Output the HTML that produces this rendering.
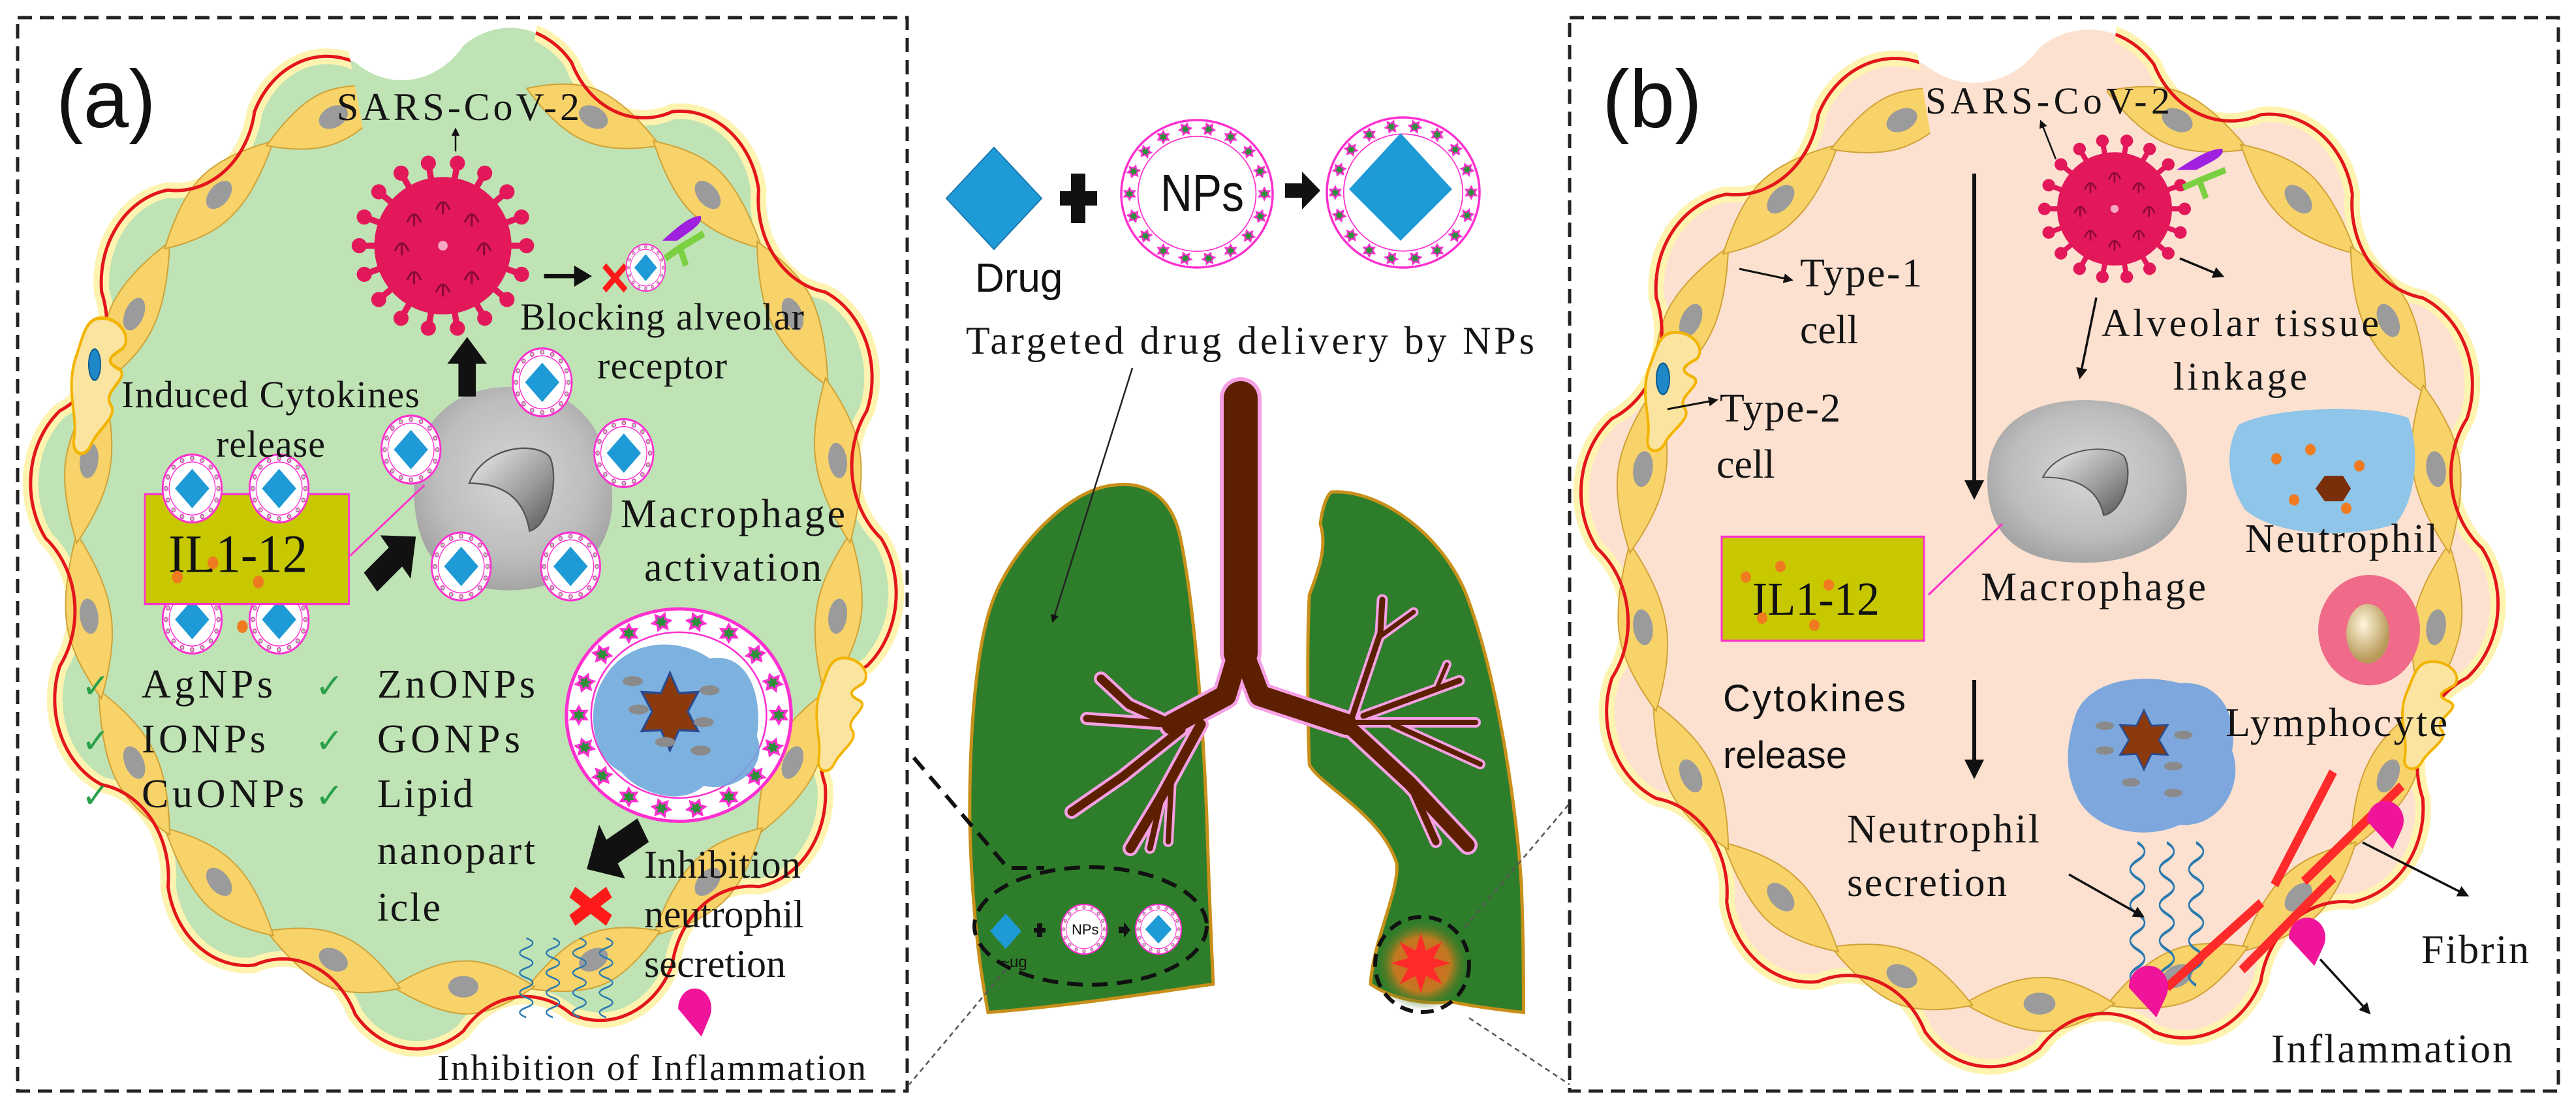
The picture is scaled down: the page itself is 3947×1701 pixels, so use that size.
<!DOCTYPE html>
<html><head><meta charset="utf-8"><style>
html,body{margin:0;padding:0;background:#fff;}
svg{display:block;}
.s{font-family:"Liberation Serif",serif;fill:#151515;}
.a{font-family:"Liberation Sans",sans-serif;fill:#111;}
</style></head><body>
<svg width="3947" height="1701" viewBox="0 0 3947 1701" xmlns="http://www.w3.org/2000/svg" xmlns:xlink="http://www.w3.org/1999/xlink">
<defs>
<marker id="ah" viewBox="0 0 10 10" refX="8" refY="5" markerWidth="5" markerHeight="5" orient="auto"><path d="M0,0L10,5L0,10Z" fill="#111"/></marker>
<radialGradient id="mg" cx="50%" cy="45%" r="55%"><stop offset="0" stop-color="#d6d6d6"/><stop offset="0.7" stop-color="#bdbdbd"/><stop offset="1" stop-color="#a5a5a5"/></radialGradient>
<linearGradient id="ng" x1="0" y1="0" x2="1" y2="1"><stop offset="0" stop-color="#f0f0f0"/><stop offset="0.6" stop-color="#9a9a9a"/><stop offset="1" stop-color="#555"/></linearGradient>
<radialGradient id="glow" cx="50%" cy="50%" r="50%"><stop offset="0" stop-color="#e85a20"/><stop offset="0.6" stop-color="#c07a20"/><stop offset="1" stop-color="#2e7d2a" stop-opacity="0"/></radialGradient>
<radialGradient id="nuc" cx="40%" cy="35%" r="60%"><stop offset="0" stop-color="#fff6dc"/><stop offset="1" stop-color="#b89a5a"/></radialGradient>
<clipPath id="clA" clipPathUnits="userSpaceOnUse"><path d="M0,0 H520 L560,220 H790 L830,0 H1400 V1701 H0Z"/></clipPath>
<clipPath id="clB" clipPathUnits="userSpaceOnUse"><path d="M2400,0 H2925 L2960,220 H3215 L3250,0 H3947 V1701 H2400Z"/></clipPath>

<path id="wv" d="M100,0 A19,19 0 0 1 96.6,25.9 A19,19 0 0 0 86.6,50 A19,19 0 0 1 70.7,70.7 A19,19 0 0 0 50,86.6 A19,19 0 0 1 25.9,96.6 A19,19 0 0 0 0,100 A19,19 0 0 1 -25.9,96.6 A19,19 0 0 0 -50,86.6 A19,19 0 0 1 -70.7,70.7 A19,19 0 0 0 -86.6,50 A19,19 0 0 1 -96.6,25.9 A19,19 0 0 0 -100,0 A19,19 0 0 1 -96.6,-25.9 A19,19 0 0 0 -86.6,-50 A19,19 0 0 1 -70.7,-70.7 A19,19 0 0 0 -50,-86.6 A19,19 0 0 1 -25.9,-96.6 A19,19 0 0 0 0,-100 A19,19 0 0 1 25.9,-96.6 A19,19 0 0 0 50,-86.6 A19,19 0 0 1 70.7,-70.7 A19,19 0 0 0 86.6,-50 A19,19 0 0 1 96.6,-25.9 A19,19 0 0 0 100,0Z" vector-effect="non-scaling-stroke"/>
<g id="cell"><path d="M-17,0 Q-7,-5.8 0,-5.5 Q7,-5.2 17,0 Q7,5.2 0,5.2 Q-7,5.5 -17,0Z" fill="#f8d36a" stroke="#d0a236" stroke-width="2" vector-effect="non-scaling-stroke"/><ellipse rx="3.6" ry="2.2" fill="#9b9b9b"/></g>
<g id="cells">
<use href="#cell" transform="rotate(10) translate(91,0) rotate(90)"/>
<use href="#cell" transform="rotate(30) translate(91,0) rotate(90)"/>
<use href="#cell" transform="rotate(50) translate(91,0) rotate(90)"/>
<use href="#cell" transform="rotate(70) translate(91,0) rotate(90)"/>
<use href="#cell" transform="rotate(90) translate(91,0) rotate(90)"/>
<use href="#cell" transform="rotate(110) translate(91,0) rotate(90)"/>
<use href="#cell" transform="rotate(130) translate(91,0) rotate(90)"/>
<use href="#cell" transform="rotate(150) translate(91,0) rotate(90)"/>
<use href="#cell" transform="rotate(170) translate(91,0) rotate(90)"/>
<use href="#cell" transform="rotate(190) translate(91,0) rotate(90)"/>
<use href="#cell" transform="rotate(210) translate(91,0) rotate(90)"/>
<use href="#cell" transform="rotate(230) translate(91,0) rotate(90)"/>
<use href="#cell" transform="rotate(250) translate(91,0) rotate(90)"/>
<use href="#cell" transform="rotate(290) translate(91,0) rotate(90)"/>
<use href="#cell" transform="rotate(310) translate(91,0) rotate(90)"/>
<use href="#cell" transform="rotate(330) translate(91,0) rotate(90)"/>
<use href="#cell" transform="rotate(350) translate(91,0) rotate(90)"/>
</g>

<g id="sp"><line x1="95" y1="0" x2="120" y2="0" stroke="#e2185b" stroke-width="9"/><circle cx="122" cy="0" r="11" fill="#e2185b"/></g>
<path id="ym" d="M-10,8 Q0,-15 10,8 M0,-3 L0,14" fill="none" stroke="#8a0a36" stroke-width="3"/>
<g id="vir">
<use href="#sp"/><use href="#sp" transform="rotate(20)"/><use href="#sp" transform="rotate(40)"/><use href="#sp" transform="rotate(60)"/><use href="#sp" transform="rotate(80)"/><use href="#sp" transform="rotate(100)"/><use href="#sp" transform="rotate(120)"/><use href="#sp" transform="rotate(140)"/><use href="#sp" transform="rotate(160)"/><use href="#sp" transform="rotate(180)"/><use href="#sp" transform="rotate(200)"/><use href="#sp" transform="rotate(220)"/><use href="#sp" transform="rotate(240)"/><use href="#sp" transform="rotate(260)"/><use href="#sp" transform="rotate(280)"/><use href="#sp" transform="rotate(300)"/><use href="#sp" transform="rotate(320)"/><use href="#sp" transform="rotate(340)"/>
<circle r="100" fill="#e2185b"/>
<use href="#ym" x="60" y="0"/><use href="#ym" x="42" y="42"/><use href="#ym" x="0" y="60"/><use href="#ym" x="-42" y="42"/><use href="#ym" x="-60" y="0"/><use href="#ym" x="-42" y="-42"/><use href="#ym" x="0" y="-60"/><use href="#ym" x="42" y="-42"/>
<circle r="7" fill="#f7a8c0"/>
</g>

<circle id="pd" cx="89" cy="0" r="6" fill="#b6e0a8" stroke="#e040c0" stroke-width="3"/>
<g id="npP"><circle r="100" fill="#fff" stroke="#ff2fd0" stroke-width="6"/><circle r="78" fill="none" stroke="#ff2fd0" stroke-width="3"/>
<use href="#pd"/><use href="#pd" transform="rotate(22.5)"/><use href="#pd" transform="rotate(45)"/><use href="#pd" transform="rotate(67.5)"/><use href="#pd" transform="rotate(90)"/><use href="#pd" transform="rotate(112.5)"/><use href="#pd" transform="rotate(135)"/><use href="#pd" transform="rotate(157.5)"/><use href="#pd" transform="rotate(180)"/><use href="#pd" transform="rotate(202.5)"/><use href="#pd" transform="rotate(225)"/><use href="#pd" transform="rotate(247.5)"/><use href="#pd" transform="rotate(270)"/><use href="#pd" transform="rotate(292.5)"/><use href="#pd" transform="rotate(315)"/><use href="#pd" transform="rotate(337.5)"/></g>
<g id="npPD"><use href="#npP"/><polygon points="-58,0 0,-58 58,0 0,58" fill="#1e9ad6"/></g>
<polygon id="gd" transform="translate(89,0) scale(8)" points="0,-1 .275,-.476 .866,-.5 .55,0 .866,.5 .275,.476 0,1 -.275,.476 -.866,.5 -.55,0 -.866,-.5 -.275,-.476" fill="#2d8f3a" stroke="#ff2fd0" stroke-width="0.25"/>
<g id="npG"><circle r="100" fill="#fff" stroke="#ff2fd0" stroke-width="3"/><circle r="78" fill="none" stroke="#ff2fd0" stroke-width="1.5"/>
<use href="#gd"/><use href="#gd" transform="rotate(20)"/><use href="#gd" transform="rotate(40)"/><use href="#gd" transform="rotate(60)"/><use href="#gd" transform="rotate(80)"/><use href="#gd" transform="rotate(100)"/><use href="#gd" transform="rotate(120)"/><use href="#gd" transform="rotate(140)"/><use href="#gd" transform="rotate(160)"/><use href="#gd" transform="rotate(180)"/><use href="#gd" transform="rotate(200)"/><use href="#gd" transform="rotate(220)"/><use href="#gd" transform="rotate(240)"/><use href="#gd" transform="rotate(260)"/><use href="#gd" transform="rotate(280)"/><use href="#gd" transform="rotate(300)"/><use href="#gd" transform="rotate(320)"/><use href="#gd" transform="rotate(340)"/></g>

<g id="mac"><path d="M-100,0 C-100,-80 -40,-100 10,-95 C80,-90 100,-30 97,20 C90,80 30,100 -20,95 C-80,90 -100,50 -100,0Z" fill="url(#mg)"/>
<path d="M-45,-5 C-30,-40 20,-45 35,-30 C45,-10 35,35 15,40 C10,10 -10,-5 -45,-5Z" fill="url(#ng)" stroke="#555" stroke-width="1.5"/></g>
<path id="sq" d="M0,0 q22,7 0,14 q-22,7 0,14 q22,7 0,14 q-22,7 0,14 q22,7 0,14 q-22,7 0,14 q22,7 0,14 q-22,7 0,14" fill="none" stroke="#2a7ab0" stroke-width="2.5"/>
<polygon id="hex" points="0,-1 .275,-.476 .866,-.5 .55,0 .866,.5 .275,.476 0,1 -.275,.476 -.866,.5 -.55,0 -.866,-.5 -.275,-.476" fill="#8b3a0e" stroke="#2a4a90" stroke-width="0.06"/>
<polygon id="fa" points="-1,-0.35 0.1,-0.35 0.1,-0.8 1,0 0.1,0.8 0.1,0.35 -1,0.35" fill="#111"/>
<path id="t2" d="M40,0 C70,-5 95,20 80,35 C60,45 50,50 75,60 C90,70 50,85 60,100 C75,115 40,130 30,150 C20,165 0,160 5,140 C10,110 -10,80 10,40 C20,15 25,3 40,0Z" fill="#fbe3a0" stroke="#f2b400" stroke-width="4"/>
</defs>

<!-- dashed boxes -->
<rect x="27" y="27" width="1363" height="1645" fill="none" stroke="#222" stroke-width="5" stroke-dasharray="22 12"/>
<rect x="2405" y="27" width="1515" height="1645" fill="none" stroke="#222" stroke-width="5" stroke-dasharray="22 12"/>

<!-- Panel A alveolus -->
<g transform="translate(710,825) scale(6.4,7.55)"><use href="#wv" fill="#bfe3b4" stroke="none"/></g>
<g clip-path="url(#clA)"><g transform="translate(710,825) scale(6.4,7.55)">
<use href="#wv" fill="none" stroke="#fff3b0" stroke-width="24"/>
<use href="#cells"/>
<use href="#wv" fill="none" stroke="#e3161b" stroke-width="5"/>
</g></g>
<!-- Panel B alveolus -->
<g transform="translate(3125,840) scale(6.78,7.67)"><use href="#wv" fill="#fde1d0" stroke="none"/></g>
<g clip-path="url(#clB)"><g transform="translate(3125,840) scale(6.78,7.67)">
<use href="#wv" fill="none" stroke="#fff3b0" stroke-width="24"/>
<use href="#cells"/>
<use href="#wv" fill="none" stroke="#e3161b" stroke-width="5"/>
</g></g>

<!-- Panel A shapes (zoom coords) -->
<g transform="scale(0.906,1.085)">
<use href="#t2" transform="translate(120,450) scale(1.1,1.2)"/>
<ellipse cx="160" cy="515" rx="10" ry="22" fill="#1e88c8" stroke="#0a5a90" stroke-width="2"/>
<use href="#t2" transform="translate(1380,930)"/>
<use href="#vir" transform="translate(749,347) scale(1.16,0.97)"/>
<line x1="920" y1="390" x2="995" y2="390" stroke="#111" stroke-width="6" marker-end="url(#ah)"/>
<g stroke="#ff1a1a" stroke-width="9"><line x1="1022" y1="375" x2="1058" y2="410"/><line x1="1058" y1="375" x2="1022" y2="410"/></g>
<use href="#npPD" transform="translate(1092,378) scale(0.33)"/>
<path d="M1120,340 C1140,325 1165,305 1185,305 C1190,315 1170,325 1145,340Z" fill="#a020e0"/>
<path d="M1125,365 L1150,350 L1190,330 M1150,350 L1160,375" stroke="#7ad040" stroke-width="10" fill="none"/>
<use href="#mac" transform="translate(870,690) scale(1.7,1.5)"/>
<use href="#npPD" transform="translate(917,540) scale(0.5,0.48)"/>
<use href="#npPD" transform="translate(695,635) scale(0.5,0.48)"/>
<use href="#npPD" transform="translate(1055,640) scale(0.5,0.48)"/>
<use href="#npPD" transform="translate(780,800) scale(0.5,0.48)"/>
<use href="#npPD" transform="translate(965,800) scale(0.5,0.48)"/>
<use href="#npPD" transform="translate(325,875) scale(0.5,0.48)"/>
<use href="#npPD" transform="translate(472,875) scale(0.5,0.48)"/>
<rect x="245" y="698" width="345" height="155" fill="#c8c800" stroke="#ff33cc" stroke-width="3"/>
<text x="285" y="808" font-family="Liberation Serif,serif" font-size="76" fill="#111" textLength="235" lengthAdjust="spacingAndGlyphs">IL1-12</text>
<g fill="#f07a20"><circle cx="300" cy="815" r="9"/><circle cx="360" cy="795" r="9"/><circle cx="437" cy="822" r="9"/><circle cx="410" cy="885" r="9"/></g>
<use href="#npPD" transform="translate(325,690) scale(0.5,0.48)"/>
<use href="#npPD" transform="translate(472,690) scale(0.5,0.48)"/>
<line x1="592" y1="785" x2="718" y2="685" stroke="#ff33cc" stroke-width="3"/>
<use href="#fa" transform="translate(790,518) rotate(-90) scale(42)"/>
<use href="#fa" transform="translate(665,790) rotate(-40) scale(50)"/>
<use href="#fa" transform="translate(1040,1200) rotate(150) scale(55)"/>
<use href="#npG" transform="translate(1148,1010) scale(1.9,1.5)"/>
<path d="M1020,960 C1060,900 1150,900 1200,930 C1270,920 1290,990 1280,1040 C1300,1080 1250,1120 1190,1110 C1150,1140 1080,1120 1050,1090 C1000,1070 990,1000 1020,960Z" fill="#6fa8dc" opacity="0.9"/>
<use href="#hex" transform="translate(1133,1005) scale(55)"/>
<g fill="#8a8a8a"><ellipse cx="1070" cy="962" rx="17" ry="7"/><ellipse cx="1080" cy="1002" rx="17" ry="7"/><ellipse cx="1200" cy="975" rx="17" ry="7"/><ellipse cx="1190" cy="1020" rx="17" ry="7"/><ellipse cx="1125" cy="1048" rx="17" ry="7"/><ellipse cx="1185" cy="1060" rx="17" ry="7"/></g>
<g stroke="#ff1a1a" stroke-width="18"><line x1="968" y1="1260" x2="1030" y2="1300"/><line x1="1030" y1="1260" x2="968" y2="1300"/></g>
<use href="#sq" x="890" y="1325"/><use href="#sq" x="935" y="1325"/><use href="#sq" x="980" y="1325"/><use href="#sq" x="1025" y="1325"/>
<path d="M1147,1425 A28,28 0 1 1 1200.2,1436.2 L1186.2,1464.2Z" fill="#f0149a"/>
</g>

<!-- Panel B shapes (zoom coords) -->
<g transform="translate(2380,0) scale(1,1.085)">
<use href="#t2" transform="translate(140,470) scale(1,1.05)"/>
<ellipse cx="168" cy="535" rx="10" ry="22" fill="#1e88c8" stroke="#0a5a90" stroke-width="2"/>
<use href="#t2" transform="translate(1300,935) scale(1,0.95)"/>
<use href="#vir" transform="translate(860,295) scale(0.88,0.8)"/>
<path d="M955,240 C980,225 1005,210 1025,210 C1030,220 1010,228 985,240Z" fill="#a020e0"/>
<path d="M965,265 L990,255 L1030,240 M990,255 L1000,280" stroke="#7ad040" stroke-width="9" fill="none"/>
<use href="#mac" transform="translate(820,680) scale(1.55,1.2)"/>
<path d="M1050,600 C1100,575 1250,570 1310,590 C1330,640 1320,710 1290,740 C1230,760 1110,760 1060,720 C1030,680 1030,630 1050,600Z" fill="#8ec5e8"/>
<polygon points="1168,690 1182,672 1210,672 1222,690 1210,708 1182,708" fill="#7a2e0a"/>
<g fill="#f07a20"><circle cx="1108" cy="648" r="8"/><circle cx="1160" cy="635" r="8"/><circle cx="1235" cy="658" r="8"/><circle cx="1135" cy="706" r="8"/><circle cx="1215" cy="718" r="8"/></g>
<circle cx="1250" cy="890" r="78" fill="#f06a8a"/><ellipse cx="1248" cy="895" rx="33" ry="42" fill="url(#nuc)"/>
<rect x="258" y="758" width="310" height="147" fill="#c8c800" stroke="#ff33cc" stroke-width="3"/>
<text x="305" y="868" font-family="Liberation Serif,serif" font-size="66" fill="#111" textLength="195" lengthAdjust="spacingAndGlyphs">IL1-12</text>
<g fill="#f07a20"><circle cx="295" cy="815" r="8"/><circle cx="348" cy="800" r="8"/><circle cx="422" cy="826" r="8"/><circle cx="320" cy="873" r="8"/><circle cx="400" cy="883" r="8"/></g>
<line x1="575" y1="840" x2="688" y2="740" stroke="#ff33cc" stroke-width="3"/>
<path d="M800,1010 C820,960 900,950 960,965 C1020,960 1050,1010 1040,1060 C1060,1110 1020,1170 960,1165 C900,1190 820,1170 800,1120 C780,1080 790,1040 800,1010Z" fill="#7ea8dd"/>
<use href="#hex" transform="translate(905,1045) scale(42)"/>
<g fill="#8a8a8a"><ellipse cx="845" cy="1025" rx="14" ry="6"/><ellipse cx="845" cy="1060" rx="14" ry="6"/><ellipse cx="965" cy="1038" rx="14" ry="6"/><ellipse cx="950" cy="1082" rx="14" ry="6"/><ellipse cx="885" cy="1105" rx="14" ry="6"/><ellipse cx="950" cy="1120" rx="14" ry="6"/></g>
<use href="#sq" transform="translate(895,1190) scale(1,1.8)"/><use href="#sq" transform="translate(940,1190) scale(1,1.8)"/><use href="#sq" transform="translate(985,1190) scale(1,1.8)"/>
<g stroke="#ff2a2a" stroke-width="13"><line x1="1195" y1="1090" x2="1105" y2="1250"/><line x1="1300" y1="1110" x2="1150" y2="1245"/><line x1="1085" y1="1275" x2="940" y2="1395"/><line x1="1195" y1="1240" x2="1055" y2="1370"/></g>
<path d="M1247,1160 A28,28 0 1 1 1300.2,1171.2 L1286.2,1199.2Z" fill="#f0149a"/>
<path d="M1127,1325 A28,28 0 1 1 1180.2,1336.2 L1166.2,1364.2Z" fill="#f0149a"/>
<path d="M882,1395 A30,30 0 1 1 939,1407 L924,1437Z" fill="#f0149a"/>
</g>

<!-- center lungs -->
<g transform="translate(1380,0) scale(0.6698,1.085)">
<path d="M490,685 C560,680 620,700 640,760 C670,850 690,1000 700,1150 C705,1250 712,1350 715,1390 C600,1400 400,1420 200,1430 C175,1350 160,1250 158,1150 C158,1000 180,900 210,850 C250,780 380,690 490,685Z" fill="#2e7d2a" stroke="#c8901a" stroke-width="5" vector-effect="non-scaling-stroke"/>
<path d="M985,695 C1100,690 1250,760 1300,850 C1370,970 1410,1150 1420,1250 C1425,1330 1425,1400 1425,1430 C1350,1425 1300,1420 1260,1415 C1200,1420 1120,1410 1075,1390 C1080,1330 1140,1260 1135,1220 C1100,1150 960,1110 935,1080 C930,1000 930,900 935,840 C960,800 975,770 960,740 C965,715 975,700 985,695Z" fill="#2e7d2a" stroke="#c8901a" stroke-width="5" vector-effect="non-scaling-stroke"/>
</g>
<!-- bronchi (real coords) -->
<g fill="none" stroke="#f6a0e4" stroke-linecap="round" stroke-linejoin="round">
<polyline points="1901,610 1901,1000" stroke-width="64"/>
<polyline points="1901,990 1878,1066 1796,1110" stroke-width="42"/>
<polyline points="1796,1110 1730,1080 1687,1040" stroke-width="22"/>
<polyline points="1796,1110 1665,1101" stroke-width="20"/>
<polyline points="1810,1118 1720,1190 1642,1244" stroke-width="22"/>
<polyline points="1840,1110 1780,1220 1732,1300" stroke-width="24"/>
<polyline points="1780,1220 1762,1300" stroke-width="17"/>
<polyline points="1795,1195 1790,1290" stroke-width="16"/>
<polyline points="1901,990 1930,1066 2063,1110" stroke-width="42"/>
<polyline points="2063,1110 2160,1200 2249,1295" stroke-width="30"/>
<polyline points="2070,1104 2115,970 2118,919" stroke-width="17"/>
<polyline points="2115,975 2166,938" stroke-width="15"/>
<polyline points="2089,1097 2236,1043" stroke-width="17"/>
<polyline points="2200,1058 2217,1018" stroke-width="14"/>
<polyline points="2063,1107 2261,1107" stroke-width="16"/>
<polyline points="2134,1110 2268,1171" stroke-width="16"/>
<polyline points="2160,1200 2200,1290" stroke-width="19"/>
</g>
<g fill="none" stroke="#5c2000" stroke-linecap="round" stroke-linejoin="round">
<polyline points="1901,610 1901,1000" stroke-width="52"/>
<polyline points="1901,990 1878,1066 1796,1110" stroke-width="32"/>
<polyline points="1796,1110 1730,1080 1687,1040" stroke-width="13"/>
<polyline points="1796,1110 1665,1101" stroke-width="11"/>
<polyline points="1810,1118 1720,1190 1642,1244" stroke-width="13"/>
<polyline points="1840,1110 1780,1220 1732,1300" stroke-width="15"/>
<polyline points="1780,1220 1762,1300" stroke-width="9"/>
<polyline points="1795,1195 1790,1290" stroke-width="8"/>
<polyline points="1901,990 1930,1066 2063,1110" stroke-width="32"/>
<polyline points="2063,1110 2160,1200 2249,1295" stroke-width="21"/>
<polyline points="2070,1104 2115,970 2118,919" stroke-width="9"/>
<polyline points="2115,975 2166,938" stroke-width="7"/>
<polyline points="2089,1097 2236,1043" stroke-width="9"/>
<polyline points="2200,1058 2217,1018" stroke-width="6"/>
<polyline points="2063,1107 2261,1107" stroke-width="8"/>
<polyline points="2134,1110 2268,1171" stroke-width="8"/>
<polyline points="2160,1200 2200,1290" stroke-width="11"/>
</g>

<!-- center top -->
<polygon points="1450,304 1523,226 1596,304 1523,382" fill="#1e9ad6" stroke="#1878b0" stroke-width="2"/>
<rect x="1624" y="293" width="57" height="22" fill="#111"/>
<rect x="1641" y="266" width="22" height="76" fill="#111"/>
<text class="a" x="1494" y="447" font-size="62">Drug</text>
<use href="#npG" transform="translate(1834,297) scale(1.16,1.13)"/>
<use href="#npG" transform="translate(2150,295) scale(1.17,1.15)"/>
<polygon points="2067,290 2146,204 2225,290 2146,369" fill="#1e9ad6"/>
<text class="a" x="1778" y="323" font-size="80" textLength="128" lengthAdjust="spacingAndGlyphs">NPs</text>
<polygon points="1969,281 1995,281 1995,263 2023,292 1995,321 1995,303 1969,303" fill="#111"/>
<text class="s" x="1480" y="542" font-size="60" textLength="871" lengthAdjust="spacing">Targeted drug delivery by NPs</text>
<line x1="1735" y1="564" x2="1613" y2="952" stroke="#222" stroke-width="2.5" marker-end="url(#ah)"/>

<!-- lung details -->
<ellipse cx="2179" cy="1478" rx="72" ry="70" fill="url(#glow)"/>
<polygon transform="translate(2177,1476) scale(46)" points="0,-1 .172,-.416 .707,-.707 .416,-.172 1,0 .416,.172 .707,.707 .172,.416 0,1 -.172,.416 -.707,.707 -.416,.172 -1,0 -.416,-.172 -.707,-.707 -.172,-.416" fill="#ff2a2a"/>
<ellipse cx="1671" cy="1419" rx="178" ry="90" fill="none" stroke="#111" stroke-width="6" stroke-dasharray="24 14"/>
<ellipse cx="2179" cy="1478" rx="72" ry="73" fill="none" stroke="#111" stroke-width="6" stroke-dasharray="20 12"/>
<polyline points="1400,1161 1544,1330 1600,1330" fill="none" stroke="#111" stroke-width="6" stroke-dasharray="24 14"/>
<line x1="1541" y1="1486" x2="1393" y2="1662" stroke="#555" stroke-width="2.5" stroke-dasharray="8 6"/>
<line x1="2244" y1="1421" x2="2405" y2="1231" stroke="#555" stroke-width="2.5" stroke-dasharray="8 6"/>
<line x1="2251" y1="1560" x2="2405" y2="1662" stroke="#555" stroke-width="2.5" stroke-dasharray="8 6"/>
<polygon points="1517,1427 1541,1400 1565,1427 1541,1454" fill="#1e9ad6"/>
<rect x="1584" y="1422" width="18" height="7" fill="#111"/><rect x="1589" y="1415" width="8" height="21" fill="#111"/>
<use href="#npP" transform="translate(1661,1424) scale(0.35,0.38)"/>
<use href="#npPD" transform="translate(1775,1424) scale(0.35,0.38)"/>
<text class="a" x="1642" y="1432" font-size="22">NPs</text>
<polygon points="1714,1420 1722,1420 1722,1413 1732,1425 1722,1437 1722,1430 1714,1430" fill="#111"/>
<text class="a" x="1533" y="1482" font-size="24">~ug</text>

<!-- Panel A text -->
<text class="a" x="86" y="195" font-size="125">(a)</text>
<text class="s" x="516" y="184" font-size="60" textLength="372" lengthAdjust="spacing">SARS-CoV-2</text>
<line x1="698" y1="232" x2="698" y2="198" stroke="#111" stroke-width="2.5" marker-end="url(#ah)"/>
<text class="s" x="797" y="505" font-size="58" textLength="435" lengthAdjust="spacing">Blocking alveolar</text>
<text class="s" x="915" y="580" font-size="58" textLength="199" lengthAdjust="spacing">receptor</text>
<text class="s" x="186" y="624" font-size="58" textLength="457" lengthAdjust="spacing">Induced Cytokines</text>
<text class="s" x="331" y="700" font-size="58" textLength="167" lengthAdjust="spacing">release</text>
<text class="s" x="951" y="808" font-size="62" textLength="344" lengthAdjust="spacing">Macrophage</text>
<text class="s" x="987" y="890" font-size="62" textLength="272" lengthAdjust="spacing">activation</text>
<g font-family="DejaVu Sans,sans-serif" font-size="52" fill="#2aa04a">
<text x="125" y="1069">✓</text><text x="125" y="1153">✓</text><text x="125" y="1237">✓</text>
<text x="483" y="1069">✓</text><text x="483" y="1153">✓</text><text x="483" y="1237">✓</text>
</g>
<text class="s" x="217" y="1069" font-size="62" textLength="201" lengthAdjust="spacing">AgNPs</text>
<text class="s" x="217" y="1153" font-size="62" textLength="190" lengthAdjust="spacing">IONPs</text>
<text class="s" x="217" y="1237" font-size="62" textLength="249" lengthAdjust="spacing">CuONPs</text>
<text class="s" x="578" y="1069" font-size="62" textLength="242" lengthAdjust="spacing">ZnONPs</text>
<text class="s" x="578" y="1153" font-size="62" textLength="219" lengthAdjust="spacing">GONPs</text>
<text class="s" x="578" y="1237" font-size="62" textLength="147" lengthAdjust="spacing">Lipid</text>
<text class="s" x="578" y="1324" font-size="62" textLength="242" lengthAdjust="spacing">nanopart</text>
<text class="s" x="578" y="1411" font-size="62" textLength="97" lengthAdjust="spacing">icle</text>
<text class="s" x="987" y="1345" font-size="60" textLength="240" lengthAdjust="spacing">Inhibition</text>
<text class="s" x="987" y="1421" font-size="60" textLength="245" lengthAdjust="spacing">neutrophil</text>
<text class="s" x="987" y="1497" font-size="60" textLength="217" lengthAdjust="spacing">secretion</text>
<text class="s" x="670" y="1655" font-size="56" textLength="657" lengthAdjust="spacing">Inhibition of Inflammation</text>

<!-- Panel B text -->
<text class="a" x="2455" y="195" font-size="125">(b)</text>
<text class="s" x="2950" y="174" font-size="58" textLength="375" lengthAdjust="spacing">SARS-CoV-2</text>
<text class="s" x="2758" y="439" font-size="62" textLength="187" lengthAdjust="spacing">Type-1</text>
<text class="s" x="2758" y="526" font-size="62">cell</text>
<text class="s" x="2635" y="646" font-size="62" textLength="185" lengthAdjust="spacing">Type-2</text>
<text class="s" x="2630" y="732" font-size="62">cell</text>
<text class="s" x="3220" y="515" font-size="60" textLength="425" lengthAdjust="spacing">Alveolar tissue</text>
<text class="s" x="3330" y="597" font-size="60" textLength="205" lengthAdjust="spacing">linkage</text>
<text class="s" x="3035" y="920" font-size="62" textLength="345" lengthAdjust="spacing">Macrophage</text>
<text class="s" x="3440" y="846" font-size="62" textLength="295" lengthAdjust="spacing">Neutrophil</text>
<text class="a" x="2640" y="1090" font-size="58" textLength="280" lengthAdjust="spacing">Cytokines</text>
<text class="a" x="2640" y="1177" font-size="58" textLength="190" lengthAdjust="spacing">release</text>
<text class="s" x="3410" y="1128" font-size="62" textLength="340" lengthAdjust="spacing">Lymphocyte</text>
<text class="s" x="2830" y="1291" font-size="62" textLength="295" lengthAdjust="spacing">Neutrophil</text>
<text class="s" x="2830" y="1373" font-size="62" textLength="245" lengthAdjust="spacing">secretion</text>
<text class="s" x="3710" y="1476" font-size="62" textLength="165" lengthAdjust="spacing">Fibrin</text>
<text class="s" x="3480" y="1628" font-size="62" textLength="370" lengthAdjust="spacing">Inflammation</text>
<line x1="2665" y1="412" x2="2745" y2="429" stroke="#111" stroke-width="3" marker-end="url(#ah)"/>
<line x1="2555" y1="627" x2="2630" y2="613" stroke="#111" stroke-width="3" marker-end="url(#ah)"/>
<line x1="3150" y1="244" x2="3127" y2="186" stroke="#111" stroke-width="2.5" marker-end="url(#ah)"/>
<line x1="3340" y1="396" x2="3405" y2="423" stroke="#111" stroke-width="3.5" marker-end="url(#ah)"/>
<line x1="3025" y1="266" x2="3025" y2="760" stroke="#111" stroke-width="6" marker-end="url(#ah)"/>
<line x1="3212" y1="456" x2="3187" y2="578" stroke="#111" stroke-width="3.5" marker-end="url(#ah)"/>
<line x1="3025" y1="1042" x2="3025" y2="1188" stroke="#111" stroke-width="6" marker-end="url(#ah)"/>
<line x1="3170" y1="1340" x2="3283" y2="1404" stroke="#111" stroke-width="3.5" marker-end="url(#ah)"/>
<line x1="3620" y1="1291" x2="3780" y2="1372" stroke="#111" stroke-width="3.5" marker-end="url(#ah)"/>
<line x1="3555" y1="1470" x2="3630" y2="1552" stroke="#111" stroke-width="3.5" marker-end="url(#ah)"/>
</svg>
</body></html>
